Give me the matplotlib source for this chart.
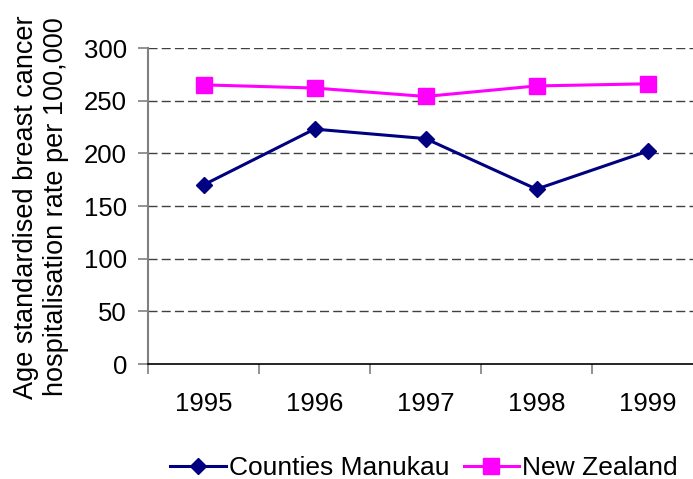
import matplotlib
matplotlib.use("Agg")
import matplotlib.pyplot as plt

years = ["1995", "1996", "1997", "1998", "1999"]
counties_manukau = [170, 223, 214, 166, 202]
new_zealand = [265, 262, 254, 264, 266]
yticks = [0, 50, 100, 150, 200, 250, 300]

plt.rcParams['font.family'] = ['Liberation Sans', 'DejaVu Sans']

W, H = 693, 479
fig = plt.figure(figsize=(W / 100, H / 100), dpi=100)
left, right, top, bottom = 148, 703, 48, 364
ax = fig.add_axes([left / W, 1 - bottom / H, (right - left) / W, (bottom - top) / H])

x = list(range(len(years)))
ax.plot(x, counties_manukau, color='#000080', lw=2.2, marker='D', ms=8.5,
        label='Counties Manukau', clip_on=False, zorder=3)
ax.plot(x, new_zealand, color='#FF00FF', lw=2.2, marker='s', ms=11,
        label='New Zealand', clip_on=False, zorder=3)

ax.set_xlim(-0.5, len(years) - 0.5)
ax.set_ylim(0, 300)
ax.set_yticks(yticks)
ax.set_yticklabels([str(v) for v in yticks], fontsize=18.5)
ax.set_xticks(x)
ax.set_xticklabels(years, fontsize=18.5)
ax.set_xticks([i - 0.5 for i in range(len(years) + 1)], minor=True)
ax.tick_params(axis='x', which='major', length=0, pad=20)
ax.tick_params(axis='x', which='minor', length=7, width=1.2, color='#808080', direction='out')
ax.tick_params(axis='y', length=7, width=1.2, color='#808080', direction='out', pad=8)

for v in yticks[1:]:
    ax.axhline(v, color='#404040', lw=1.0, ls=(0, (6.5, 3)), zorder=1)

for s in ['top', 'right']:
    ax.spines[s].set_visible(False)
ax.spines['left'].set_color('#808080')
ax.spines['left'].set_linewidth(1.5)
ax.spines['bottom'].set_color('black')
ax.spines['bottom'].set_linewidth(1.2)

fig.text(41 / W, 1 - 207 / H, 'Age standardised breast cancer\nhospitalisation rate per 100,000',
         rotation=90, ha='center', va='center', fontsize=19.5, linespacing=1.2)

fig.legend(loc='center', bbox_to_anchor=(424 / W, 1 - 468 / H), ncol=2, frameon=False,
           fontsize=19, handlelength=2.1, columnspacing=0.55, handletextpad=0.12,
           borderaxespad=0, borderpad=0)

fig.savefig('out.png', dpi=100)
